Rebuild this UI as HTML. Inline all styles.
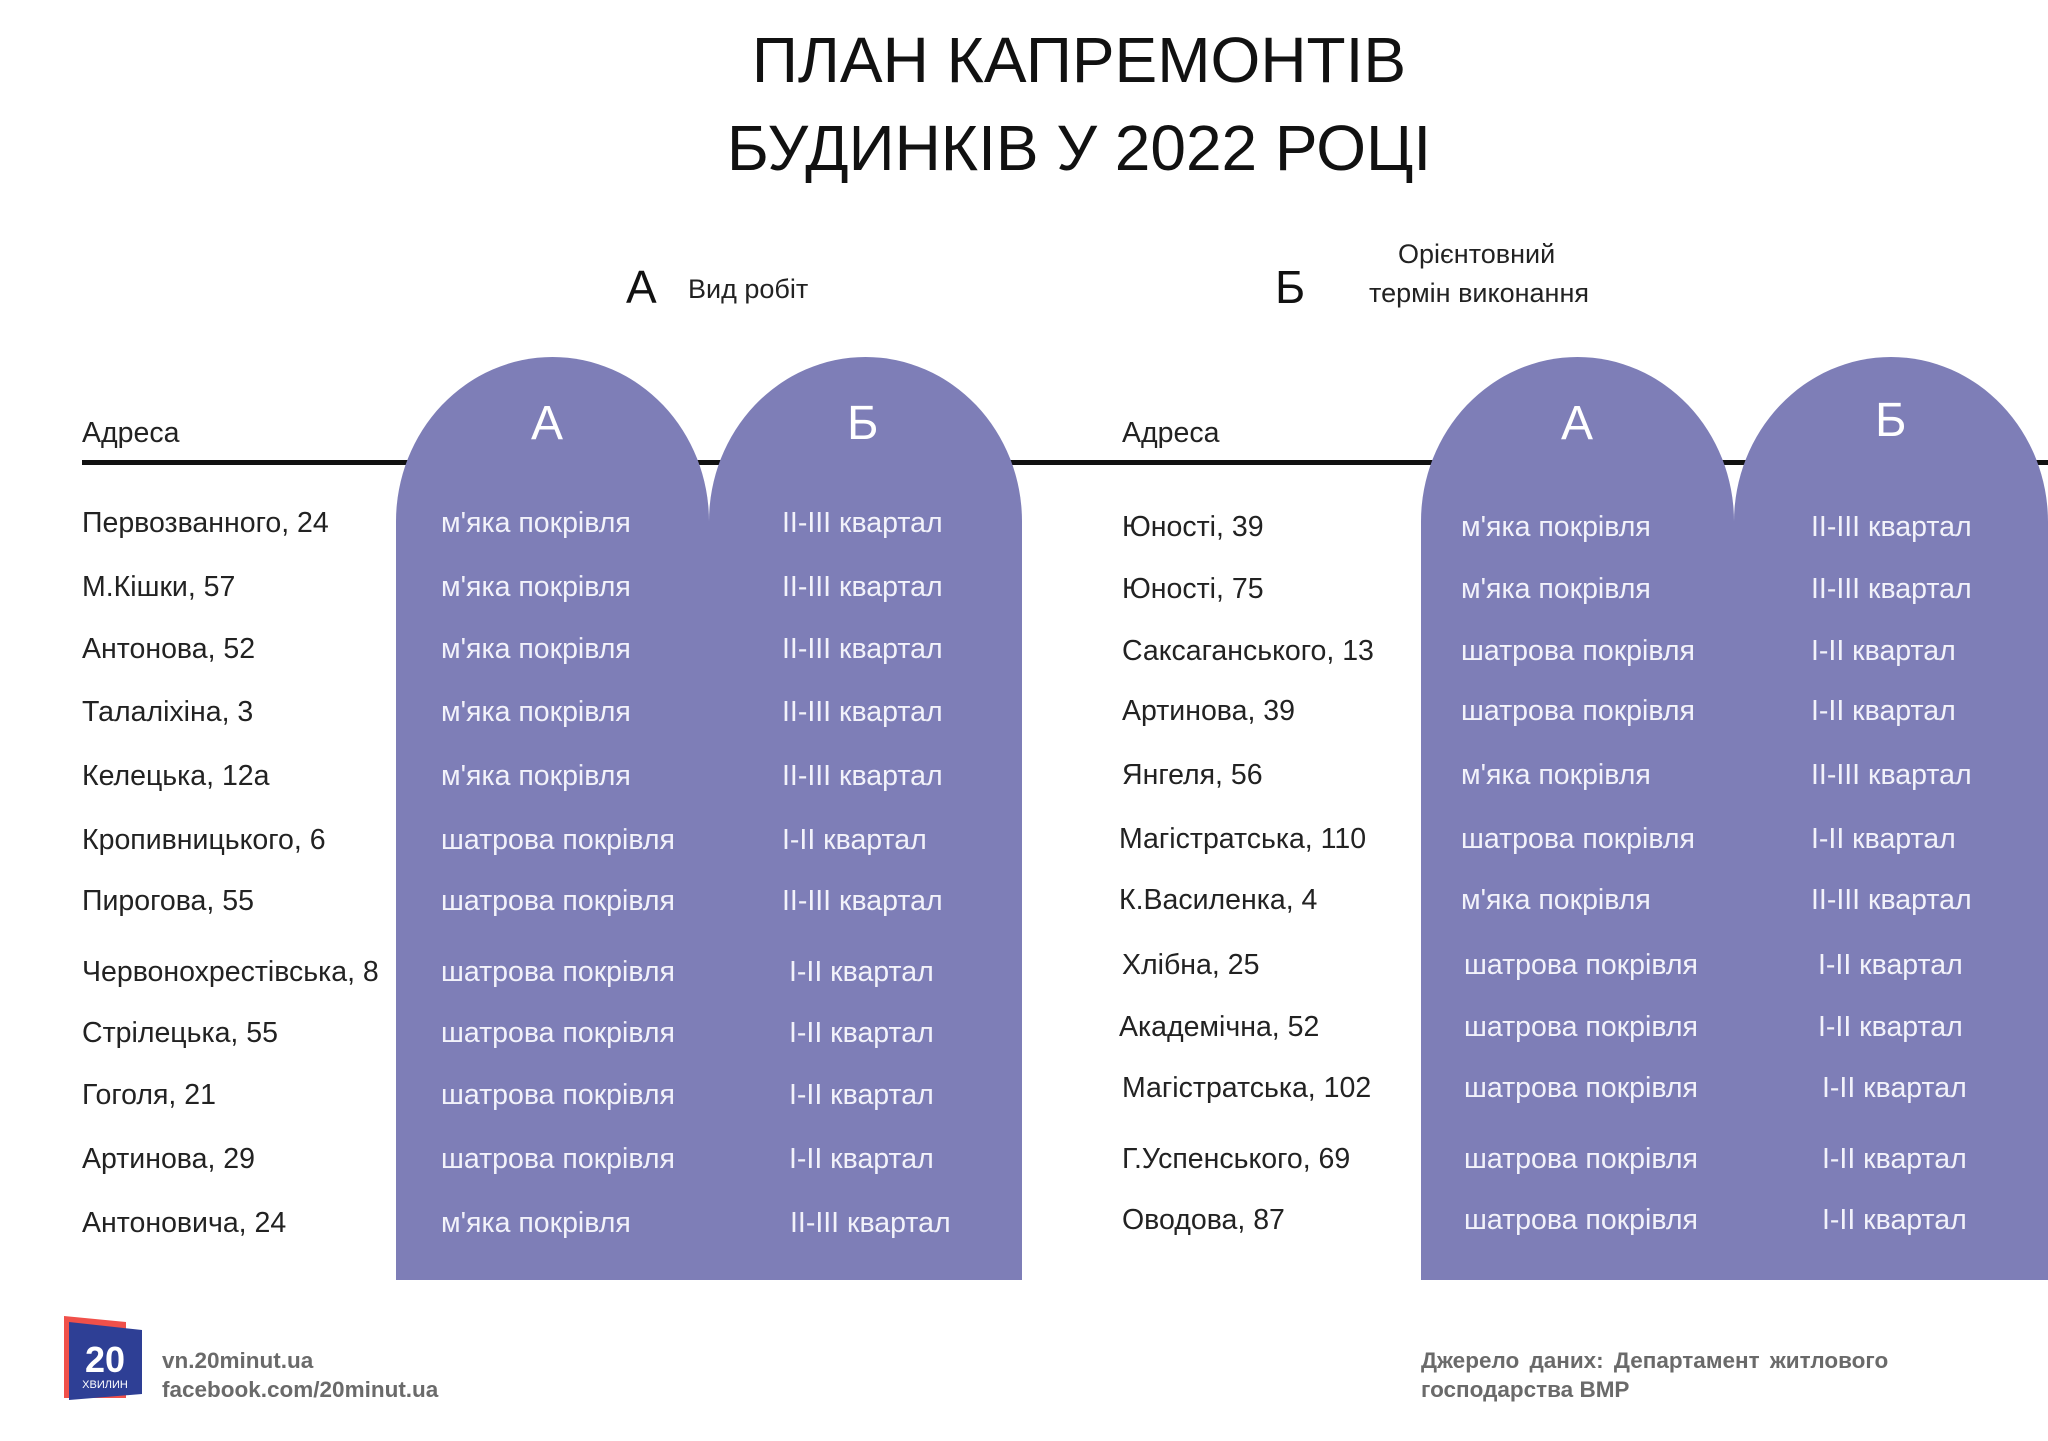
<!DOCTYPE html>
<html><head><meta charset="utf-8">
<style>
body{margin:0;}
#c{position:relative;width:2048px;height:1441px;background:#fff;overflow:hidden;font-family:"Liberation Sans","DejaVu Sans",sans-serif;}
.t{position:absolute;white-space:nowrap;line-height:1;}
.col{position:absolute;background:#7e7eb7;top:357px;height:923px;border-top-left-radius:157px 165px;border-top-right-radius:157px 165px;}
.a{font-size:28.5px;color:#222;}
.w{font-size:28.5px;color:#f2f2fa;}
.h{font-size:48px;color:#fff;}
.title{position:absolute;left:1079px;transform:translateX(-50%);font-size:64px;color:#111;white-space:nowrap;line-height:1;}
.f{font-size:22.5px;font-weight:bold;color:#6a6a6a;}
</style></head><body><div id="c">
<div class="title" style="top:28px">ПЛАН КАПРЕМОНТІВ</div>
<div class="title" style="top:116px">БУДИНКІВ У 2022 РОЦІ</div>

<div class="t" style="left:626px;top:264px;font-size:46px;color:#111">А</div>
<div class="t" style="left:688px;top:276px;font-size:27px;color:#222">Вид робіт</div>
<div class="t" style="left:1275px;top:264px;font-size:46px;color:#111">Б</div>
<div class="t" style="left:1398px;top:241px;font-size:27px;color:#222">Орієнтовний</div>
<div class="t" style="left:1369px;top:280px;font-size:27px;color:#222">термін виконання</div>

<div style="position:absolute;left:82px;top:460px;width:1966px;height:5px;background:#111"></div>
<div class="t a" style="left:82px;top:419px">Адреса</div>
<div class="t a" style="left:1122px;top:419px">Адреса</div>

<div class="col" style="left:396px;width:313px"></div>
<div class="col" style="left:709px;width:313px"></div>
<div class="col" style="left:1421px;width:313px"></div>
<div class="col" style="left:1734px;width:314px"></div>

<div class="t h" style="left:531px;top:400px">А</div>
<div class="t h" style="left:847px;top:400px">Б</div>
<div class="t h" style="left:1561px;top:400px">А</div>
<div class="t h" style="left:1875px;top:397px">Б</div>

<div class="t a" style="left:82px;top:509px">Первозванного, 24</div><div class="t w" style="left:441px;top:509px">м'яка покрівля</div><div class="t w" style="left:782px;top:509px">II-III квартал</div>
<div class="t a" style="left:82px;top:573px">М.Кішки, 57</div><div class="t w" style="left:441px;top:573px">м'яка покрівля</div><div class="t w" style="left:782px;top:573px">II-III квартал</div>
<div class="t a" style="left:82px;top:635px">Антонова, 52</div><div class="t w" style="left:441px;top:635px">м'яка покрівля</div><div class="t w" style="left:782px;top:635px">II-III квартал</div>
<div class="t a" style="left:82px;top:698px">Талаліхіна, 3</div><div class="t w" style="left:441px;top:698px">м'яка покрівля</div><div class="t w" style="left:782px;top:698px">II-III квартал</div>
<div class="t a" style="left:82px;top:762px">Келецька, 12а</div><div class="t w" style="left:441px;top:762px">м'яка покрівля</div><div class="t w" style="left:782px;top:762px">II-III квартал</div>
<div class="t a" style="left:82px;top:826px">Кропивницького, 6</div><div class="t w" style="left:441px;top:826px">шатрова покрівля</div><div class="t w" style="left:782px;top:826px">I-II квартал</div>
<div class="t a" style="left:82px;top:887px">Пирогова, 55</div><div class="t w" style="left:441px;top:887px">шатрова покрівля</div><div class="t w" style="left:782px;top:887px">II-III квартал</div>
<div class="t a" style="left:82px;top:958px">Червонохрестівська, 8</div><div class="t w" style="left:441px;top:958px">шатрова покрівля</div><div class="t w" style="left:789px;top:958px">I-II квартал</div>
<div class="t a" style="left:82px;top:1019px">Стрілецька, 55</div><div class="t w" style="left:441px;top:1019px">шатрова покрівля</div><div class="t w" style="left:789px;top:1019px">I-II квартал</div>
<div class="t a" style="left:82px;top:1081px">Гоголя, 21</div><div class="t w" style="left:441px;top:1081px">шатрова покрівля</div><div class="t w" style="left:789px;top:1081px">I-II квартал</div>
<div class="t a" style="left:82px;top:1145px">Артинова, 29</div><div class="t w" style="left:441px;top:1145px">шатрова покрівля</div><div class="t w" style="left:789px;top:1145px">I-II квартал</div>
<div class="t a" style="left:82px;top:1209px">Антоновича, 24</div><div class="t w" style="left:441px;top:1209px">м'яка покрівля</div><div class="t w" style="left:790px;top:1209px">II-III квартал</div>

<div class="t a" style="left:1122px;top:513px">Юності, 39</div><div class="t w" style="left:1461px;top:513px">м'яка покрівля</div><div class="t w" style="left:1811px;top:513px">II-III квартал</div>
<div class="t a" style="left:1122px;top:575px">Юності, 75</div><div class="t w" style="left:1461px;top:575px">м'яка покрівля</div><div class="t w" style="left:1811px;top:575px">II-III квартал</div>
<div class="t a" style="left:1122px;top:637px">Саксаганського, 13</div><div class="t w" style="left:1461px;top:637px">шатрова покрівля</div><div class="t w" style="left:1811px;top:637px">I-II квартал</div>
<div class="t a" style="left:1122px;top:697px">Артинова, 39</div><div class="t w" style="left:1461px;top:697px">шатрова покрівля</div><div class="t w" style="left:1811px;top:697px">I-II квартал</div>
<div class="t a" style="left:1122px;top:761px">Янгеля, 56</div><div class="t w" style="left:1461px;top:761px">м'яка покрівля</div><div class="t w" style="left:1811px;top:761px">II-III квартал</div>
<div class="t a" style="left:1119px;top:825px">Магістратська, 110</div><div class="t w" style="left:1461px;top:825px">шатрова покрівля</div><div class="t w" style="left:1811px;top:825px">I-II квартал</div>
<div class="t a" style="left:1119px;top:886px">К.Василенка, 4</div><div class="t w" style="left:1461px;top:886px">м'яка покрівля</div><div class="t w" style="left:1811px;top:886px">II-III квартал</div>
<div class="t a" style="left:1122px;top:951px">Хлібна, 25</div><div class="t w" style="left:1464px;top:951px">шатрова покрівля</div><div class="t w" style="left:1818px;top:951px">I-II квартал</div>
<div class="t a" style="left:1119px;top:1013px">Академічна, 52</div><div class="t w" style="left:1464px;top:1013px">шатрова покрівля</div><div class="t w" style="left:1818px;top:1013px">I-II квартал</div>
<div class="t a" style="left:1122px;top:1074px">Магістратська, 102</div><div class="t w" style="left:1464px;top:1074px">шатрова покрівля</div><div class="t w" style="left:1822px;top:1074px">I-II квартал</div>
<div class="t a" style="left:1122px;top:1145px">Г.Успенського, 69</div><div class="t w" style="left:1464px;top:1145px">шатрова покрівля</div><div class="t w" style="left:1822px;top:1145px">I-II квартал</div>
<div class="t a" style="left:1122px;top:1206px">Оводова, 87</div><div class="t w" style="left:1464px;top:1206px">шатрова покрівля</div><div class="t w" style="left:1822px;top:1206px">I-II квартал</div>

<svg style="position:absolute;left:64px;top:1316px" width="80" height="86">
<polygon points="0,0 62,6 62,82 0,82" fill="#f0504a"/>
<polygon points="5,6 78,14 78,78 5,84" fill="#2e3f95"/>
<text x="41" y="56" font-family="Liberation Sans" font-weight="bold" font-size="36" fill="#fff" text-anchor="middle">20</text>
<text x="41" y="72" font-family="Liberation Sans" font-size="11" fill="#fff" text-anchor="middle">ХВИЛИН</text>
</svg>
<div class="t f" style="left:162px;top:1350px">vn.20minut.ua</div>
<div class="t f" style="left:162px;top:1379px">facebook.com/20minut.ua</div>
<div class="t f" style="left:1421px;top:1350px;word-spacing:4px">Джерело даних: Департамент житлового</div>
<div class="t f" style="left:1421px;top:1379px">господарства ВМР</div>
</div></body></html>
